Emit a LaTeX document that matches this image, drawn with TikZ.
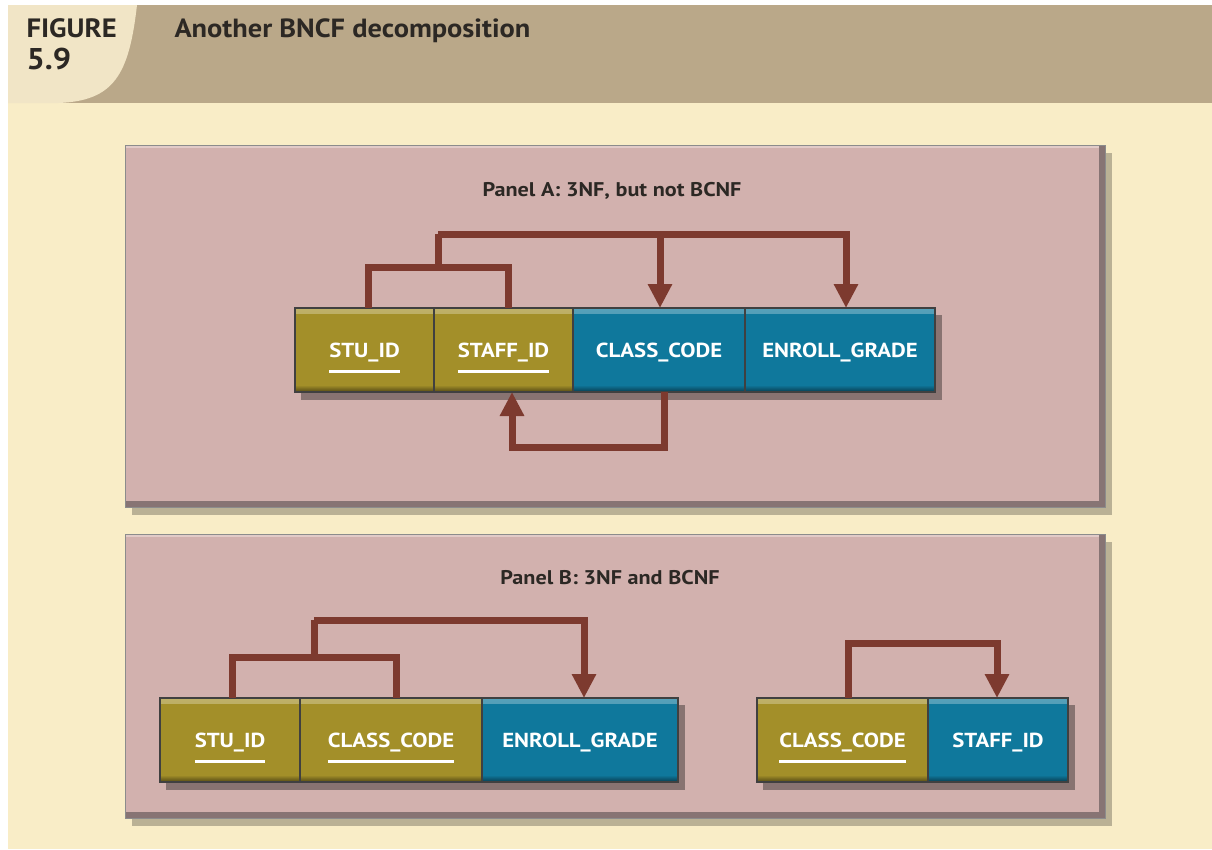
\documentclass[tikz,border=0pt]{standalone}
\usepackage{fontspec}
\setmainfont{PT Sans}
\newfontfamily\cellfont{PT Sans}[FakeStretch=1.12]
\newfontfamily\headfont{PT Sans}[FakeStretch=1.08]
\usetikzlibrary{arrows.meta}

\definecolor{cream}{HTML}{F9EDC7}
\definecolor{band}{HTML}{BAA889}
\definecolor{tab}{HTML}{F1E5C6}
\definecolor{panel}{HTML}{D2B1AE}
\definecolor{paneldark}{HTML}{877474}
\definecolor{panellight}{HTML}{E2CBC8}
\definecolor{olv}{HTML}{A38F29}
\definecolor{tealc}{HTML}{0F789C}
\definecolor{arrowc}{HTML}{7D3A2F}
\definecolor{ink}{HTML}{2C2824}

% key attribute: white underline beneath the name
\newcommand\pkey[1]{\setbox0\hbox{#1}\vtop{\copy0\kern 8.5pt\hrule height 2.6pt width \wd0}}
% top highlight and bottom shade of a cell
\newcommand\cellbevel[1]{%
  \shade[top color=#1!70!white, bottom color=#1]
    (path picture bounding box.north west) rectangle ([yshift=-5pt]path picture bounding box.north east);
  \shade[top color=#1, bottom color=#1!50!black]
    ([yshift=7pt]path picture bounding box.south west) rectangle (path picture bounding box.south east);}

\tikzset{
  x=1pt, y=-1pt,
  cell/.style={anchor=north west, minimum height=84pt, inner sep=0pt, outer sep=0pt,
    text=white, font=\cellfont\fontsize{20.3}{23}\selectfont\bfseries,
    text height=14pt, text depth=0pt, draw=black!75, line width=1.2pt},
  keycell/.style={cell, fill=olv, path picture={\cellbevel{olv}}},
  datacell/.style={cell, fill=tealc, path picture={\cellbevel{tealc}}},
  dep/.style={draw=arrowc, line width=7pt, line join=miter},
  deparrow/.style={dep, -{Triangle[width=23pt,length=24pt]}},
  paneltitle/.style={anchor=base, text=ink, font=\cellfont\fontsize{19.8}{22}\selectfont\bfseries},
  headtext/.style={anchor=base west, text=ink},
}

\newcommand\drawpanel[4]{% x1,y1,x2,y2
  \fill[black, opacity=0.25] (#1+7,#2+8) rectangle (#3+7,#4+8);
  \fill[panel] (#1,#2) rectangle (#3,#4);
  \fill[paneldark] (#3-6,#2) rectangle (#3,#4);
  \fill[paneldark] (#1,#4-6) rectangle (#3,#4);
  \fill[panellight] (#1,#2) rectangle (#3-6,#2+3);
  \draw[black!45, line width=0.8pt] (#1,#2) rectangle (#3,#4);}

\begin{document}
\begin{tikzpicture}
\useasboundingbox (0,0) rectangle (1212,849);
\fill[white] (0,0) rectangle (1212,849);
\fill[cream] (8,5) rectangle (1212,849);

% header band and figure tab
\fill[band] (8,5) rectangle (1212,103);
\fill[tab] (8,5) -- (137,5) .. controls (129,75) and (114,101) .. (58,103) -- (8,103) -- cycle;
\node[headtext, font=\headfont\fontsize{26.5}{28}\selectfont\bfseries] (figlabel) at (23,37) {FIGURE};
\node[headtext, font=\headfont\fontsize{30}{32}\selectfont\bfseries] (fignum) at (23,69) {5.9};
\node[headtext, font=\headfont\fontsize{26.3}{28}\selectfont\bfseries] (figtitle) at (171,37) {Another BNCF decomposition};

% ---------------- Panel A ----------------
\drawpanel{125}{145}{1105}{507}
\node[paneltitle] (tA) at (612,196) {Panel A: 3NF, but not BCNF};

\fill[black, opacity=0.35] (301,315) rectangle (942,400);
\node[keycell, minimum width=139pt] (a1) at (295,308) {\pkey{STU\_ID}};
\node[keycell, minimum width=139pt] (a2) at (434,308) {\pkey{STAFF\_ID}};
\node[datacell, minimum width=172pt] (a3) at (573,308) {CLASS\_CODE};
\node[datacell, minimum width=190pt] (a4) at (745,308) {ENROLL\_GRADE};

\coordinate (jA1) at (438,267);
\coordinate (jA2) at (438,234);
\coordinate (cA) at (590,447);
\draw[dep] ([xshift=3.5pt]a1.north) |- (jA1) -| ([xshift=4.5pt]a2.north);
\draw[dep] (jA1) -- (jA2);
\draw[deparrow] (jA2) -| ([xshift=1pt]a3.north);
\draw[deparrow] (jA2) -| ([xshift=6pt]a4.north);
\draw[deparrow] ([xshift=5pt]a3.south) |- (cA) -| ([xshift=8.5pt]a2.south);

% ---------------- Panel B ----------------
\drawpanel{125}{534}{1105}{818}
\node[paneltitle] (tB) at (610,584) {Panel B: 3NF and BCNF};

\fill[black, opacity=0.35] (166,705) rectangle (685,790);
\node[keycell, minimum width=140pt] (b1) at (160,698) {\pkey{STU\_ID}};
\node[keycell, minimum width=182pt] (b2) at (300,698) {\pkey{CLASS\_CODE}};
\node[datacell, minimum width=196pt] (b3) at (482,698) {ENROLL\_GRADE};

\coordinate (jB1) at (314,657);
\coordinate (jB2) at (314,620);
\draw[dep] ([xshift=2pt]b1.north) |- (jB1) -| ([xshift=5pt]b2.north);
\draw[dep] (jB1) -- (jB2);
\draw[deparrow] (jB2) -| ([xshift=4pt]b3.north);

\fill[black, opacity=0.35] (763,705) rectangle (1075,790);
\node[keycell, minimum width=171pt] (c1) at (757,698) {\pkey{CLASS\_CODE}};
\node[datacell, minimum width=140pt] (c2) at (928,698) {STAFF\_ID};

\coordinate (jC) at (900,643);
\draw[deparrow] ([xshift=5.5pt]c1.north) |- (jC) -| ([xshift=-1pt]c2.north);
\end{tikzpicture}
\end{document}
